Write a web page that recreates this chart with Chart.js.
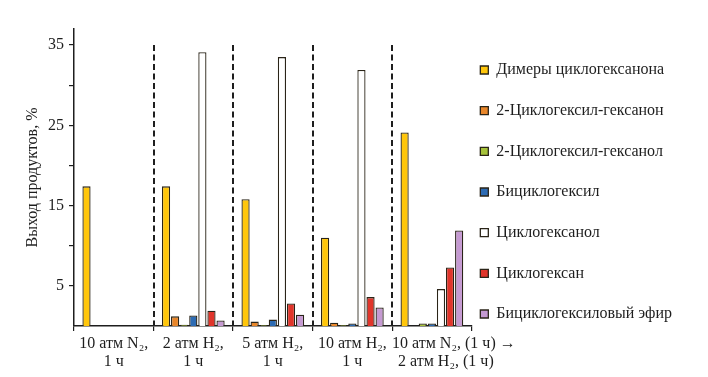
<!DOCTYPE html>
<html><head><meta charset="utf-8">
<script src="https://cdn.jsdelivr.net/npm/chart.js@4/dist/chart.umd.min.js"></script>
<style>html,body{margin:0;padding:0;background:#fff}</style>
</head><body>
<canvas id="c" width="708" height="377"></canvas>
<script>
// ---- data ----
const categories = [
  ["10 атм N₂,", "1 ч"],
  ["2 атм H₂,", "1 ч"],
  ["5 атм H₂,", "1 ч"],
  ["10 атм H₂,", "1 ч"],
  ["10 атм N₂, (1 ч) →", "2 атм H₂, (1 ч)"]
];
const seriesNames = [
  "Димеры циклогексанона",
  "2-Циклогексил-гексанон",
  "2-Циклогексил-гексанол",
  "Бициклогексил",
  "Циклогексанол",
  "Циклогексан",
  "Бициклогексиловый эфир"
];
const dimers       = [17.4, 17.4, 15.8, 11.0, 24.1];
const cyHexanone   = [null, 1.2, 0.55, 0.4, null];
const cyHexanol2   = [null, 0.15, 0.1, 0.1, 0.3];
const bicyclohexyl = [null, 1.3, 0.8, 0.3, 0.3];
const cyclohexanol = [null, 34.1, 33.5, 31.9, 4.6];
const cyclohexane  = [null, 1.9, 2.8, 3.6, 7.3];
const bicycEther   = [null, 0.7, 1.4, 2.3, 11.9];
const yTickLabels  = [5, 15, 25, 35];
const yMinorTicks  = [10, 20, 30];

const seriesData = [dimers, cyHexanone, cyHexanol2, bicyclohexyl, cyclohexanol, cyclohexane, bicycEther];
const colors = ["#FFC60B", "#E8862A", "#A6C23A", "#2D6BB3", "#FFFFFF", "#E0352B", "#C59AD2"];
const edge = "#2a2418";
const FONT = "'Liberation Serif', 'Times New Roman', serif";

const datasets = seriesNames.map((name, i) => ({
  label: name,
  data: seriesData[i],
  backgroundColor: colors[i],
  borderColor: edge,
  borderWidth: 1.3,
  categoryPercentage: 0.8,
  barPercentage: 0.9
}));

const dashPlugin = {
  id: 'dashes',
  afterDatasetsDraw(chart) {
    const xs = chart.scales.x, ys = chart.scales.y, ctx = chart.ctx;
    ctx.save();
    ctx.strokeStyle = '#1e1e1e';
    ctx.lineWidth = 2;
    ctx.setLineDash([6, 3.5]);
    for (let i = 1; i < categories.length; i++) {
      const x = Math.round((xs.getPixelForValue(i - 1) + xs.getPixelForValue(i)) / 2);
      ctx.beginPath();
      ctx.moveTo(x, ys.getPixelForValue(35));
      ctx.lineTo(x, chart.chartArea.bottom);
      ctx.stroke();
    }
    ctx.restore();
  }
};
const legendShift = {
  id: 'legendShift',
  afterLayout(chart) {
    const lg = chart.legend;
    const dx = -16, dy = -11;
    lg.left += dx; lg.right += dx; lg.top += dy; lg.bottom += dy;
  }
};

new Chart(document.getElementById('c'), {
  type: 'bar',
  data: { labels: categories.map(c => c.join(' ')), datasets },
  plugins: [dashPlugin, legendShift],
  options: {
    responsive: false,
    animation: false,
    devicePixelRatio: 1,
    layout: { padding: { top: 29, right: 10, bottom: 0, left: 0 } },
    plugins: {
      tooltip: { enabled: false },
      legend: {
        position: 'right',
        maxWidth: 230,
        labels: {
          boxWidth: 8, boxHeight: 8, padding: 24.67,
          color: '#1e1e1e',
          font: { family: FONT, size: 16 }
        }
      }
    },
    scales: {
      x: {
        afterFit(s) { s.height = 51; },
        grid: { display: true, drawOnChartArea: false, drawTicks: true, tickLength: 5, color: '#1e1e1e', lineWidth: 1.2, offset: true },
        border: { display: true, color: '#1e1e1e', width: 1.5 },
        ticks: {
          color: '#1e1e1e', padding: 4, maxRotation: 0, autoSkip: false,
          font: { family: FONT, size: 16, lineHeight: 1.1 },
          callback(v, i) {
            const lab = categories[i];
            if (i === categories.length - 1) return [' '.repeat(11) + lab[0], ' '.repeat(7) + lab[1]];
            return lab;
          }
        }
      },
      y: {
        min: 0, max: 37,
        afterFit(s) { s.width = 74; },
        afterBuildTicks(s) {
          s.ticks = [0].concat(yTickLabels, yMinorTicks).sort((a, b) => a - b).map(v => ({ value: v }));
        },
        grid: { display: true, drawOnChartArea: false, drawTicks: true, tickLength: 5, color: '#1e1e1e', lineWidth: 1.2 },
        border: { display: true, color: '#1e1e1e', width: 1.5 },
        ticks: {
          padding: 5, color: '#1e1e1e',
          font: { family: FONT, size: 16 },
          callback(v) {
            if (yTickLabels.includes(v)) return String(v);
            if (yMinorTicks.includes(v)) return '';
            return null;
          }
        },
        title: {
          display: true, text: 'Выход продуктов, %', color: '#1e1e1e',
          font: { family: FONT, size: 16 }, padding: { top: 23, bottom: 0 }
        }
      }
    }
  }
});
</script>
</body></html>
